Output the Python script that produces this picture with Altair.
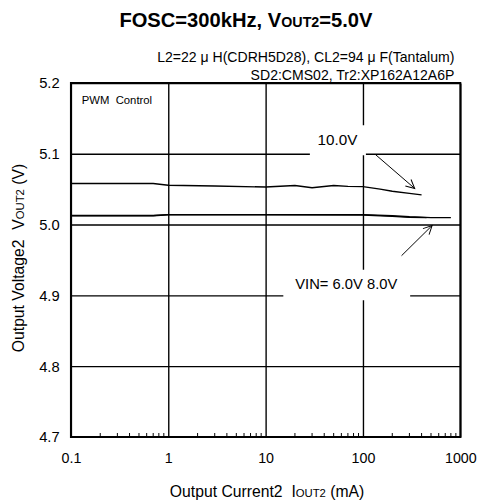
import altair as alt
import pandas as pd

FONT = "Liberation Sans"

# ---- data ----
current_10v = [0.1, 0.7, 1, 3, 10, 20, 30, 50, 70, 100, 150, 200, 300, 400]
vout_10v = [5.058, 5.058, 5.0555, 5.0545, 5.053, 5.0552, 5.052, 5.0552, 5.054, 5.0535, 5.050, 5.047, 5.044, 5.042]
current_8v = [0.1, 0.7, 1, 10, 100, 200, 300, 500, 800]
vout_8v = [5.0128, 5.0128, 5.0141, 5.0141, 5.014, 5.0125, 5.011, 5.0098, 5.0098]
current_6v = [0.1, 0.7, 1, 10, 100, 200, 300, 450]
vout_6v = [5.0125, 5.0125, 5.0138, 5.0138, 5.0135, 5.0115, 5.0103, 5.0098]

x_ticks = [0.1, 1, 10, 100, 1000]
y_ticks = [4.7, 4.8, 4.9, 5.0, 5.1, 5.2]
minor_ticks = [0.2, 0.3, 0.4, 0.5, 0.6, 0.7, 0.8, 0.9,
               2, 3, 4, 5, 6, 7, 8, 9,
               20, 30, 40, 50, 60, 70, 80, 90,
               200, 300, 400, 500, 600, 700, 800, 900]

# annotation arrows (data units): start -> end (tip)
arrow_x_start = [134, 249]
arrow_y_start = [5.099, 4.956]
arrow_x_end = [340, 513]
arrow_y_end = [5.051, 4.9986]
arrow_angle = [131, 45]

# ---- text metrics (Arial / Liberation Sans, 1/1000 em) ----
REG = {" ": 278, "(": 333, ")": 333, ".": 278, ",": 278, ":": 278, "=": 584,
       "A": 667, "C": 722, "D": 722, "F": 611, "H": 722, "I": 278, "L": 556, "M": 833, "N": 722,
       "O": 778, "P": 667, "R": 722, "S": 667, "T": 611, "U": 722, "V": 667, "W": 944, "X": 667,
       "a": 556, "e": 556, "g": 556, "l": 222, "m": 833, "n": 556, "o": 556, "p": 556, "r": 333,
       "t": 278, "u": 556, "k": 500, "z": 500}
BOLD = dict(REG)
BOLD.update({"k": 556, "r": 389, "t": 333, "o": 611, "u": 611, "p": 611,
             "n": 611, "g": 611, "l": 278, "m": 889})


def tw(s, size, bold=False):
    table = BOLD if bold else REG
    return sum(table.get(c, 556) for c in s) * size / 1000.0


def label(text, x, y, size, align="left", weight="normal", angle=None, baseline="alphabetic"):
    kw = dict(align=align, baseline=baseline, fontSize=size, fontWeight=weight,
              font=FONT, color="black")
    if angle is not None:
        kw["angle"] = angle
    return alt.Chart(pd.DataFrame({"t": [text]})).mark_text(**kw).encode(
        x=alt.value(x), y=alt.value(y), text="t:N")


def box(x1, x2, y1, y2):
    return alt.Chart(pd.DataFrame({"b": [0]})).mark_rect(color="white").encode(
        x=alt.value(x1), x2=alt.value(x2), y=alt.value(y1), y2=alt.value(y2))


def run(pieces, x0, y, horizontal=True):
    """pieces: list of (text, size, bold, gap_before_in_em). Placed one after another."""
    layers = []
    pos = x0
    for text, size, bold, gap in pieces:
        weight = "bold" if bold else "normal"
        step = gap * size
        if horizontal:
            pos += step
            layers.append(label(text, pos, y, size, weight=weight))
            pos += tw(text, size, bold)
        else:
            pos -= step
            layers.append(label(text, y, pos, size, weight=weight, angle=270))
            pos -= tw(text, size, bold)
    return layers


def run_width(pieces):
    return sum(tw(t, s, b) + g * s for t, s, b, g in pieces)


# ---- scales / axes ----
xscale = alt.Scale(type="log", domain=[0.1, 1000], nice=False)
yscale = alt.Scale(domain=[4.7, 5.2], nice=False, zero=False)

x_axis = alt.Axis(values=x_ticks, format="~g", grid=True, gridColor="black", gridWidth=1.4,
                  tickSize=0, domain=False, labelFontSize=14.5, labelFont=FONT,
                  labelColor="black", labelPadding=15, labelFlush=False, labelOverlap=False,
                  title=None)
y_axis = alt.Axis(values=y_ticks, format=".1f", grid=True, gridColor="black", gridWidth=1.4,
                  tickSize=0, domain=False, labelFontSize=15, labelFont=FONT,
                  labelColor="black", labelPadding=12, labelFlush=False, labelOverlap=False,
                  title=None)

rows = []
for name, xs, ys in (("10.0V", current_10v, vout_10v), ("8.0V", current_8v, vout_8v),
                     ("6.0V", current_6v, vout_6v)):
    for a, b in zip(xs, ys):
        rows.append({"series": name, "x": a, "y": b})
df = pd.DataFrame(rows)

lines = alt.Chart(df).mark_line(color="black", strokeWidth=1.4).encode(
    x=alt.X("x:Q", scale=xscale, axis=x_axis),
    y=alt.Y("y:Q", scale=yscale, axis=y_axis),
    detail="series:N",
)

minor = alt.Chart(pd.DataFrame({"x": minor_ticks})).mark_rule(color="black", strokeWidth=1).encode(
    x=alt.X("x:Q", scale=xscale, axis=x_axis),
    y=alt.value(360), y2=alt.value(356),
)

arr = pd.DataFrame({"x": arrow_x_start, "y": arrow_y_start, "xe": arrow_x_end,
                    "ye": arrow_y_end, "ang": arrow_angle})
arrow_lines = alt.Chart(arr).mark_rule(color="black", strokeWidth=1).encode(
    x=alt.X("x:Q", scale=xscale, axis=x_axis), y=alt.Y("y:Q", scale=yscale, axis=y_axis),
    x2="xe:Q", y2="ye:Q",
)
arrow_heads = alt.Chart(arr).mark_point(
    shape="M-0.45,0.9L0,0L0.45,0.9", filled=False, stroke="black", strokeWidth=1,
    size=380, opacity=1,
).encode(
    x=alt.X("xe:Q", scale=xscale, axis=x_axis), y=alt.Y("ye:Q", scale=yscale, axis=y_axis),
    angle=alt.Angle("ang:Q", scale=None),
)

# ---- texts ----
title_pieces = [("FOSC=300kHz, V", 20.5, True, 0), ("OUT2", 14.5, True, 0), ("=5.0V", 20.5, True, 0)]
title_layers = run(title_pieces, 178 - run_width(title_pieces) / 2, -57)

xt_pieces = [("Output Current2", 16, False, 0), ("I", 16, False, 0.556),
             ("OUT2", 11.5, False, 0), ("(mA)", 16, False, 0.278)]
xt_layers = run(xt_pieces, 199.5 - run_width(xt_pieces) / 2, 421)

yt_pieces = [("Output Voltage2", 16, False, 0), ("V", 16, False, 0.556),
             ("OUT2", 11.5, False, 0), ("(V)", 16, False, 0.278)]
yt_layers = run(yt_pieces, 178 + run_width(yt_pieces) / 2, -48, horizontal=False)

note1 = label("L2=22 \u03bc H(CDRH5D28), CL2=94 \u03bc F(Tantalum)", 390, -21, 14.3, align="right")
note2 = label("SD2:CMS02, Tr2:XP162A12A6P", 390, -3, 14.3, align="right")
pwm = run([("PWM", 11.5, False, 0), ("Control", 11.5, False, 0.556)], 11, 21)

box10 = box(243, 300, 43, 73.5)
boxvin = box(216, 345, 190, 221)
t10 = label("10.0V", 271, 63.5, 15.5, align="center")
tvin = label("VIN= 6.0V 8.0V", 280, 210, 15, align="center")

chart = alt.layer(
    lines, minor, box10, boxvin, arrow_lines, arrow_heads, t10, tvin, note1, note2,
    *pwm, *title_layers, *xt_layers, *yt_layers,
).properties(
    width=396, height=360,
    padding={"left": 64, "top": 72, "right": 19, "bottom": 66},
    autosize=alt.AutoSizeParams(type="none"),
    background="white",
).configure_view(stroke="black", strokeWidth=2)

chart.save("out.html", embed_options={"renderer": "svg", "actions": False})
